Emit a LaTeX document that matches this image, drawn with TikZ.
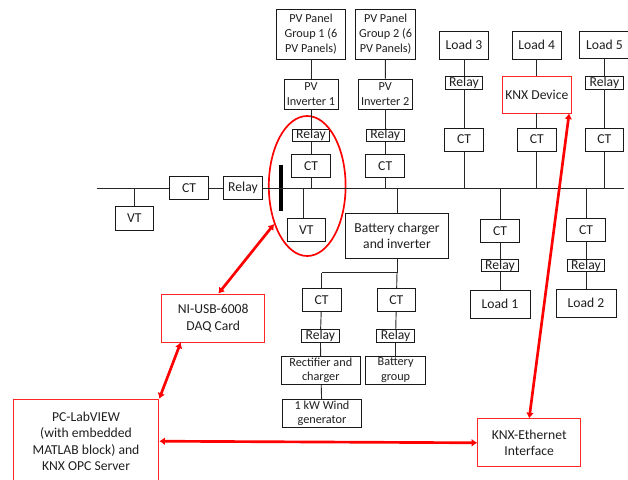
\documentclass[tikz,border=0pt]{standalone}
\usepackage{fontspec}
\setmainfont{Carlito}
\usetikzlibrary{shapes.geometric,arrows.meta}
\tikzset{
  wire/.style={draw=black!85, line width=0.65pt},
  blockbox/.style={draw=black!90, line width=0.65pt, align=center, inner sep=0pt, text=black!88,
    font=\fontsize{9.7}{11.8}\selectfont},
  smallbox/.style={blockbox, font=\fontsize{8.7}{10.4}\selectfont},
  ctbox/.style={blockbox, minimum width=0.97cm, minimum height=0.58cm},
  relaybox/.style={blockbox, minimum width=0.94cm, minimum height=0.31cm},
  loadbox/.style={blockbox, minimum width=1.23cm, minimum height=0.69cm},
  redbox/.style={blockbox, draw=red!85, minimum width=2.57cm, minimum height=1.2cm},
  link/.style={draw=red, line width=1.9pt, {Latex[length=4pt,width=5.5pt]}-{Latex[length=4pt,width=5.5pt]}}
}
\begin{document}
\begin{tikzpicture}
\useasboundingbox (0,0) rectangle (15.7,-11.975);

\coordinate (busl) at (2.425,-4.7);
\coordinate (busr) at (15.6,-4.7);
\coordinate (jvt) at (7.59,-4.7);
\coordinate (jbat) at (9.925,-4.7);
\coordinate (jsplit) at (9.925,-6.82);
\coordinate (jrect) at (8.04,-6.82);

\node [ctbox] (ct0) at (4.725,-4.7) {CT};
\node [ctbox] (rel0) at (6.075,-4.7) {Relay};
\node [ctbox] (vt0) at (3.36,-5.46) {VT};

\node [smallbox, minimum width=1.73cm, minimum height=1.25cm] (pv1) at (7.775,-0.85) {PV Panel\\Group 1 (6\\PV Panels)};
\node [smallbox, minimum width=1.35cm, minimum height=0.75cm] (inv1) at (7.775,-2.35) {PV\\Inverter 1};
\node [relaybox] (rel1) at (7.775,-3.38) {Relay};
\node [ctbox] (ct1) at (7.775,-4.15) {CT};
\node [ctbox] (vt1) at (7.66,-5.75) {VT};

\node [smallbox, minimum width=1.51cm, minimum height=1.25cm] (pv2) at (9.64,-0.85) {PV Panel\\Group 2 (6\\PV Panels)};
\node [smallbox, minimum width=1.36cm, minimum height=0.75cm] (inv2) at (9.63,-2.35) {PV\\Inverter 2};
\node [relaybox] (rel2) at (9.63,-3.38) {Relay};
\node [ctbox] (ct2) at (9.63,-4.15) {CT};

\node [loadbox] (load3) at (11.6,-1.13) {Load 3};
\node [relaybox] (rel3) at (11.6,-2.07) {Relay};
\node [ctbox] (ct3) at (11.6,-3.49) {CT};

\node [loadbox] (load4) at (13.42,-1.13) {Load 4};
\node [blockbox, draw=red!85, minimum width=1.74cm, minimum height=0.91cm] (knx) at (13.42,-2.37) {KNX Device};
\node [ctbox] (ct4) at (13.42,-3.49) {CT};

\node [loadbox] (load5) at (15.11,-1.12) {Load 5};
\node [relaybox] (rel5) at (15.11,-2.07) {Relay};
\node [ctbox] (ct5) at (15.11,-3.49) {CT};

\node [ctbox] (ct6) at (12.5,-5.78) {CT};
\node [relaybox] (rel6) at (12.5,-6.64) {Relay};
\node [blockbox, minimum width=1.5cm, minimum height=0.7cm] (load1) at (12.5,-7.6) {Load 1};

\node [ctbox] (ct7) at (14.65,-5.75) {CT};
\node [relaybox] (rel7) at (14.65,-6.64) {Relay};
\node [blockbox, minimum width=1.5cm, minimum height=0.7cm] (load2) at (14.65,-7.58) {Load 2};

\node [blockbox, minimum width=2.57cm, minimum height=1.13cm] (bat) at (9.925,-5.9) {Battery charger\\and inverter};
\node [ctbox] (ct8) at (8.04,-7.5) {CT};
\node [relaybox] (rel8) at (8.01,-8.4) {Relay};
\node [smallbox, minimum width=1.97cm, minimum height=0.7cm] (rect) at (8.02,-9.26) {Rectifier and\\charger};
\node [smallbox, minimum width=1.98cm, minimum height=0.7cm] (wind) at (8.05,-10.33) {1 kW Wind\\generator};
\node [ctbox] (ct9) at (9.91,-7.5) {CT};
\node [relaybox] (rel9) at (9.89,-8.4) {Relay};
\node [smallbox, minimum width=1.51cm, minimum height=0.7cm] (batgrp) at (9.89,-9.26) {Battery\\group};

\node [redbox] (daq) at (5.33,-7.95) {NI-USB-6008\\DAQ Card};
\node [redbox] (eth) at (13.23,-11.07) {KNX-Ethernet\\Interface};
\node [blockbox, draw=red!85, minimum width=3.64cm, minimum height=2.1cm] (pc) at (2.15,-11.03) {PC-LabVIEW\\(with embedded\\MATLAB block) and\\KNX OPC Server};

\node [fill=black, inner sep=0pt, minimum width=0.08cm, minimum height=1.15cm] (bar) at (7.025,-4.7) {};
\node [ellipse, draw=red, line width=1.2pt, inner sep=0pt, minimum width=1.92cm, minimum height=3.5cm] (ring) at (7.68,-4.65) {};

\draw [wire] (busl) edge (ct0);
\draw [wire] (ct0) edge (rel0);
\draw [wire] (rel0) edge (busr);
\draw [wire] (vt0 |- busl) edge (vt0);
\draw [wire] (jvt) edge (jvt |- vt1.north);

\draw [wire] (pv1) edge (inv1);
\draw [wire] (inv1) edge (rel1);
\draw [wire] (rel1) edge (ct1);
\draw [wire] (ct1) edge (ct1 |- busl);
\draw [wire] (pv2) edge (inv2);
\draw [wire] (inv2) edge (rel2);
\draw [wire] (rel2) edge (ct2);
\draw [wire] (ct2) edge (ct2 |- busl);

\draw [wire] (load3) edge (rel3);
\draw [wire] (rel3) edge (ct3);
\draw [wire] (ct3) edge (ct3 |- busl);
\draw [wire] (load4) edge (knx);
\draw [wire] (knx) edge (ct4);
\draw [wire] (ct4) edge (ct4 |- busl);
\draw [wire] (load5) edge (rel5);
\draw [wire] (rel5) edge (ct5);
\draw [wire] (ct5) edge (ct5 |- busl);

\draw [wire] (ct6 |- busl) edge (ct6);
\draw [wire] (ct6) edge (rel6);
\draw [wire] (rel6) edge (load1);
\draw [wire] (ct7 |- busl) edge (ct7);
\draw [wire] (ct7) edge (rel7);
\draw [wire] (rel7) edge (load2);

\draw [wire] (jbat) edge (bat);
\draw [wire] (bat) edge (jsplit);
\draw [wire] (jsplit) edge (jrect);
\draw [wire] (jrect) edge (ct8);
\draw [wire] (jsplit) edge (ct9);
\draw [wire] (ct8) edge (rel8);
\draw [wire] (rel8) edge (rect);
\draw [wire] (rect) edge (wind);
\draw [wire] (ct9) edge (rel9);
\draw [wire] (rel9) edge (batgrp);

\draw [link] (daq.78) -- (ring.229);
\draw [link] (pc.north east) -- (daq.217);
\draw [link] (pc.east) -- (eth.west);
\draw [link] (eth.north) -- (knx.-30);
\end{tikzpicture}
\end{document}
